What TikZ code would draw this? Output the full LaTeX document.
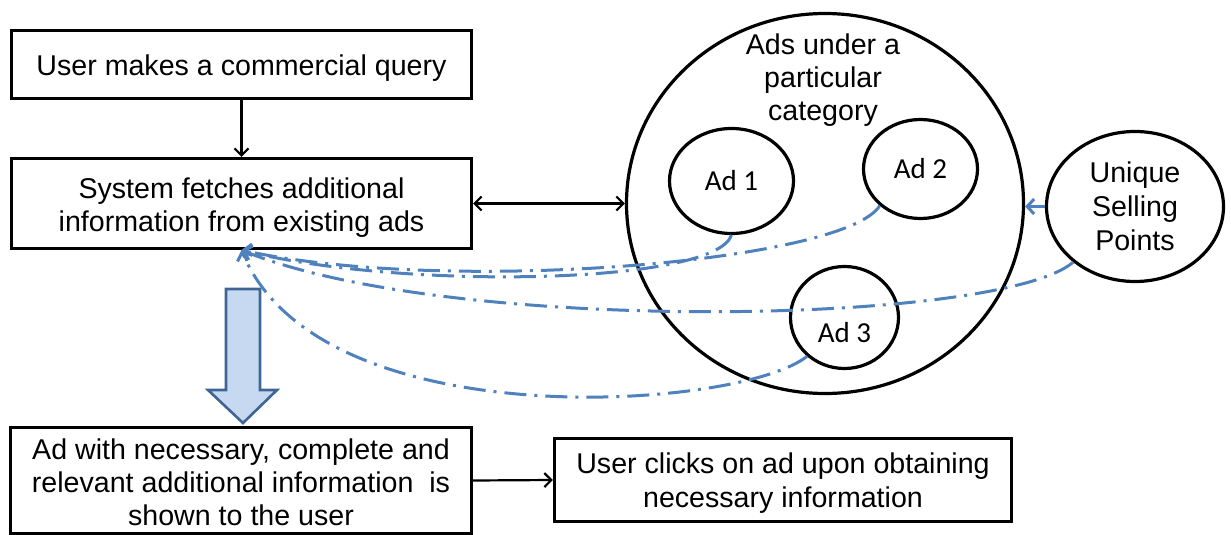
\documentclass[tikz,border=0pt]{standalone}
\usepackage{fontspec}
\setmainfont{Liberation Sans}
\newfontfamily\calfont{Carlito}
\usetikzlibrary{arrows.meta,shapes.geometric,calc}
\definecolor{accblue}{HTML}{4F81BD}
\definecolor{blkfill}{HTML}{C6D9F1}
\definecolor{blkline}{HTML}{3F6595}
\begin{document}
\begin{tikzpicture}[x=1pt,y=-1pt,
  box/.style={draw, line width=3.2pt, align=center, inner sep=0pt,
    font=\fontsize{28.6}{33}\selectfont},
  ring/.style={draw, ellipse, line width=3.2pt, inner sep=0pt, align=center},
  adlab/.style={font=\calfont\fontsize{29}{33}\selectfont},
  blkarrow/.style={line width=2.2pt, -{Straight Barb[length=7pt,width=14pt]}},
  blkdouble/.style={line width=2.2pt, {Straight Barb[length=7pt,width=14pt]}-{Straight Barb[length=7pt,width=14pt]}},
  bluearrow/.style={accblue, line width=3pt, -{Straight Barb[length=7pt,width=15pt]}},
  bluedash/.style={accblue, line width=3pt, dash pattern=on 22pt off 8pt on 3pt off 8pt,
    -{Straight Barb[length=7pt,width=16pt]}},
  blockarrow/.style={fill=blkfill, draw=blkline, line width=2.6pt, line join=miter}
]
\useasboundingbox (0,0) rectangle (1231,535);

% boxes
\node[box, minimum width=460pt, minimum height=68pt, text height=27pt, text depth=6pt] (query) at (241.5,64.5)
  {User makes a commercial query};
\node[box, minimum width=460pt, minimum height=90pt] (fetch) at (241.5,203.5)
  {\rule{0pt}{29pt}System fetches additional\\information from existing ads};
\node[box, minimum width=461pt, minimum height=106pt] (shown) at (241,480.5)
  {\rule{0pt}{25pt}Ad with necessary, complete and\\relevant additional information\ \ is\\shown to the user};
\node[box, minimum width=457pt, minimum height=83pt, font=\fontsize{28.6}{34}\selectfont] (click) at (783,480)
  {\rule{0pt}{26pt}User clicks on ad upon obtaining\\necessary information};

% circles
\node[ring, minimum width=397pt, minimum height=380pt] (cat) at (825,203.5) {};
\node[align=center, font=\fontsize{28.6}{33}\selectfont] (catlab) at (823,80)
  {Ads under a\\particular\\category};
\node[ring, minimum width=124pt, minimum height=105pt, adlab] (ad1) at (731.5,181) {Ad 1};
\node[ring, minimum width=114pt, minimum height=99pt, adlab] (ad2) at (920.5,169) {Ad 2};
\node[ring, minimum width=108pt, minimum height=102pt, adlab, text height=50pt, text depth=0pt] (ad3) at (844.5,317.5) {Ad 3};
\node[ring, minimum width=177pt, minimum height=150pt,
  font=\fontsize{28.6}{34}\selectfont] (usp) at (1135,206.5)
  {Unique\\Selling\\Points};

% block arrow
\draw[blockarrow] (226,289) -- (260,289) -- (260,390) -- (277,390) -- (243,423)
  -- (208,390) -- (226,390) -- cycle;

% black connectors
\draw[blkarrow] (query.south) -- (fetch.north);
\draw[blkdouble] (fetch.east) -- (cat.west);
\draw[blkarrow] (shown.east) -- (click.west);

% blue connectors
\draw[bluearrow] (usp.west) -- (usp.west -| cat.east);
\draw[bluedash] (ad1.south) .. controls (715,285) and (400,290) .. (fetch.south);
\draw[bluedash] (ad2.222) .. controls (845,262) and (450,295) .. (fetch.south);
\draw[bluedash] (usp.222) .. controls (1000,325) and (450,335) .. (fetch.south);
\draw[bluedash] (ad3.226) .. controls (740,410) and (320,440) .. (fetch.south);
\end{tikzpicture}
\end{document}
